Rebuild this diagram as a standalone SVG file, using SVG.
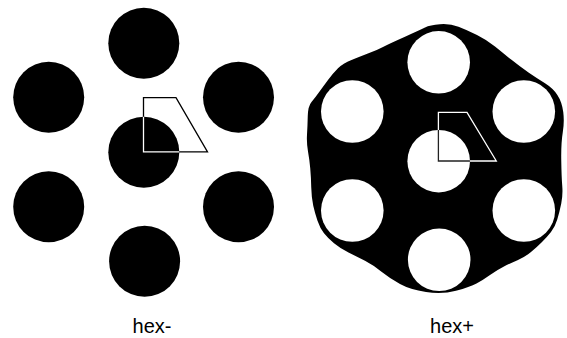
<svg xmlns="http://www.w3.org/2000/svg" xmlns:xlink="http://www.w3.org/1999/xlink" width="567" height="338" viewBox="0 0 567 338">
  <style>
    .disk { fill: #000; }
    .hole { fill: #fff; }
    .trap { fill: none; stroke-width: 1.3; stroke-linejoin: miter; }
    .label { font-family: "Liberation Sans", Arial, sans-serif; font-size: 20px; fill: #000; text-anchor: middle; }
  </style>
  <defs>
    <polygon id="trapL" points="143.5,97.7 176,97.7 207.5,151.8 143.5,151.8"/>
    <polygon id="trapR" points="438.4,112.3 467,112.3 496.3,161 438.4,161"/>
    <clipPath id="clipL"><circle cx="143.8" cy="152.2" r="35.5"/></clipPath>
    <clipPath id="clipR"><circle cx="438.7" cy="161.2" r="31.3"/></clipPath>
  </defs>
  <rect width="567" height="338" fill="#fff"/>

  <g id="hex-minus">
    <circle class="disk" cx="143.8" cy="43.2" r="35.5"/>
    <circle class="disk" cx="48.7" cy="97.3" r="35.5"/>
    <circle class="disk" cx="238.5" cy="97.3" r="35.5"/>
    <circle class="disk" cx="143.8" cy="152.2" r="35.5"/>
    <circle class="disk" cx="48.7" cy="206.8" r="35.5"/>
    <circle class="disk" cx="238.5" cy="206.8" r="35.5"/>
    <circle class="disk" cx="144.6" cy="261.3" r="35.5"/>
    <use xlink:href="#trapL" class="trap" stroke="#000"/>
    <g clip-path="url(#clipL)"><use xlink:href="#trapL" class="trap" stroke="#fff"/></g>
    <text class="label" x="152" y="333">hex-</text>
  </g>

  <g id="hex-plus">
    <path class="disk" d="M425,27.5 Q430,25 440,24.25 Q450,23.5 458.5,26.75 Q467,30 477,35 Q487,40 495,46.5 Q503,53 511.5,59.85 Q520,66.7 528.5,72.5 Q537,78.3 545,83.3 Q553,88.3 557.5,95.15 Q562,102 563.25,112 Q564.5,122 562.75,132.5 Q561,143 561.25,160 Q561.5,177 562.25,186 Q563,195 561.25,203.5 Q559.5,212 557.25,219.5 Q555,227 551,232 Q547,237 542,242 Q537,247 531,252 Q525,257 517.5,260.25 Q510,263.5 503.5,266.75 Q497,270 490,275 Q483,280 476.5,283.5 Q470,287 456,290.75 Q442,294.5 426,292 Q410,289.5 400,284 Q390,278.5 381.5,271.75 Q373,265 365,260.85 Q357,256.7 348.5,252.5 Q340,248.3 334,243.3 Q328,238.3 324,233.3 Q320,228.3 317.5,220.8 Q315,213.3 313.25,205.65 Q311.5,198 311.25,187.5 Q311,177 310.25,168.5 Q309.5,160 308,151.5 Q306.5,143 307,134.85 Q307.5,126.7 307.75,116.35 Q308,106 311.5,102 Q315,98 319,92.35 Q323,86.7 328,80 Q333,73.3 338,68.3 Q343,63.3 351.5,60 Q360,56.7 368.5,53.35 Q377,50 383.5,46.65 Q390,43.3 405,36.65 Q420,30 425,27.5 Z"/>
    <circle class="hole" cx="438.7" cy="62.3" r="31.3"/>
    <circle class="hole" cx="352.3" cy="111.5" r="31.3"/>
    <circle class="hole" cx="523.8" cy="111.5" r="31.3"/>
    <circle class="hole" cx="438.7" cy="161.2" r="31.3"/>
    <circle class="hole" cx="352.3" cy="210.5" r="31.3"/>
    <circle class="hole" cx="523.8" cy="210.5" r="31.3"/>
    <circle class="hole" cx="439.2" cy="259.8" r="31.3"/>
    <use xlink:href="#trapR" class="trap" stroke="#fff"/>
    <g clip-path="url(#clipR)"><use xlink:href="#trapR" class="trap" stroke="#222"/></g>
    <text class="label" x="452" y="333">hex+</text>
  </g>
</svg>
